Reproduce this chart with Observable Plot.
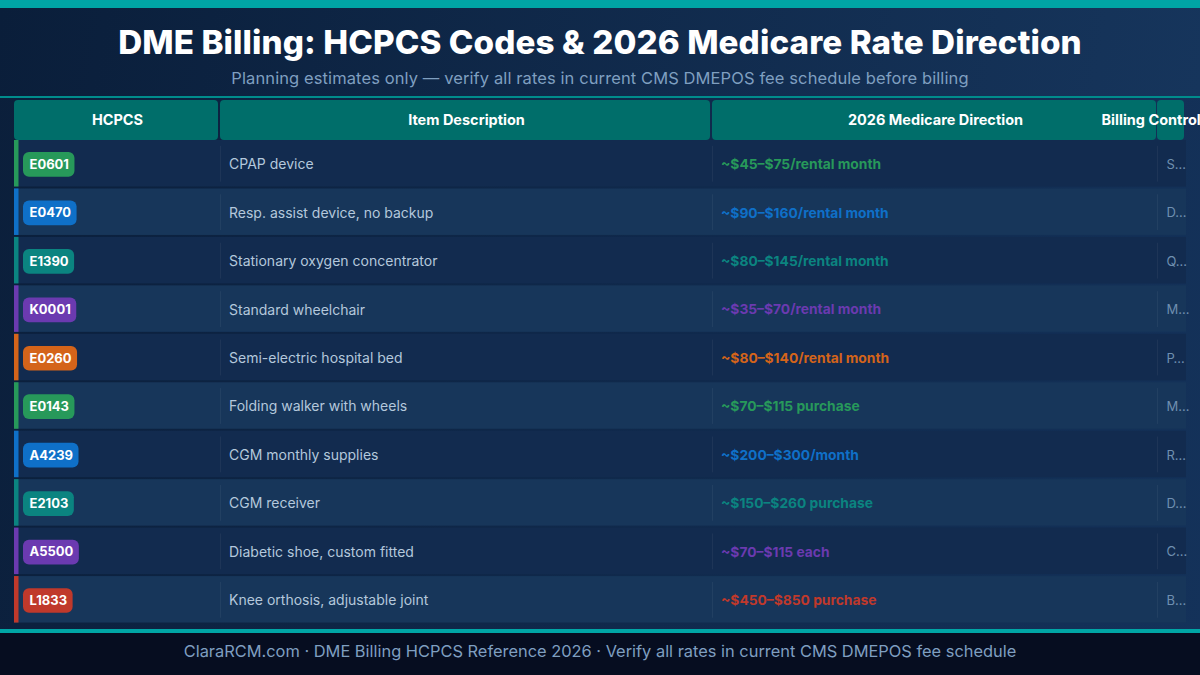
<!DOCTYPE html>
<html><head><meta charset="utf-8">
<script src="https://cdn.jsdelivr.net/npm/d3@7"></script>
<script src="https://cdn.jsdelivr.net/npm/@observablehq/plot@0.6"></script>
<style>
html,body{margin:0;padding:0;width:1200px;height:675px;overflow:hidden;font-family:Inter,sans-serif}
body{background:linear-gradient(100deg,#0b1f3b 0%,#14325a 100%)}
#bar{height:8px;background:#00a5a5}
#head{height:90px;box-sizing:border-box;border-bottom:2px solid #008c8c;text-align:center;background:linear-gradient(100deg,#0a1e3a 0%,#16355c 100%)}
#title{color:#fff;font-weight:800;font-size:33.2px;line-height:40px;padding-top:14px;letter-spacing:.1px}
#sub{color:#7f9fc0;font-size:16.5px;line-height:20px;margin-top:6px;letter-spacing:.1px}
#chart{height:531px;overflow:hidden}
#chart svg{display:block;overflow:hidden}
#foot{height:42px;border-top:4px solid #00a5a5;background:#060d20;color:#7f9fc0;text-align:center;font-size:16.4px;line-height:37px}
</style></head><body>
<div id="bar"></div>
<div id="head"><div id="title">DME Billing: HCPCS Codes &amp; 2026 Medicare Rate Direction</div>
<div id="sub">Planning estimates only — verify all rates in current CMS DMEPOS fee schedule before billing</div></div>
<div id="chart"></div>
<div id="foot">ClaraRCM.com · DME Billing HCPCS Reference 2026 · Verify all rates in current CMS DMEPOS fee schedule</div>
<script>
const codes=["E0601","E0470","E1390","K0001","E0260","E0143","A4239","E2103","A5500","L1833"];
const items=["CPAP device","Resp. assist device, no backup","Stationary oxygen concentrator","Standard wheelchair","Semi-electric hospital bed","Folding walker with wheels","CGM monthly supplies","CGM receiver","Diabetic shoe, custom fitted","Knee orthosis, adjustable joint"];
const rates=["~$45–$75/rental month","~$90–$160/rental month","~$80–$145/rental month","~$35–$70/rental month","~$80–$140/rental month","~$70–$115 purchase","~$200–$300/month","~$150–$260 purchase","~$70–$115 each","~$450–$850 purchase"];
const controls=["S…","D…","Q…","M…","P…","M…","R…","D…","C…","B…"];
const groups=["cat1","cat2","cat3","cat4","cat5","cat1","cat2","cat3","cat4","cat6"];
const headers=["HCPCS","Item Description","2026 Medicare Direction","Billing Control"];

const groupDomain=["cat1","cat2","cat3","cat4","cat5","cat6"];
const groupColors=["#27995a","#0f70c8","#0b8480","#6b3ab0","#d4641a","#c0392b"];
const cellStarts=[14,220,712,1157];
const cellEnds=[218,710,1156,1184];
const rowH=48.45, headH=42, plotH=531;
const canvas=document.createElement("canvas").getContext("2d");
canvas.font="700 13px Inter";
const rows=codes.map((c,i)=>({i,code:c,item:items[i],rate:rates[i],ctl:controls[i],g:groups[i],
  w:canvas.measureText(c).width+12}));
const cols=headers.map((h,i)=>({h,i,x1:cellStarts[i],x2:cellEnds[i]}));
const hx=[117,466,935,1101];
const seps=cellStarts.slice(1);

const plot=Plot.plot({
  width:1200,height:plotH,margin:0,
  style:{background:"transparent",fontFamily:"Inter,sans-serif"},
  x:{domain:[0,1200],range:[0,1200],axis:null},
  y:{domain:[-headH/rowH,(plotH-headH)/rowH],range:[0,plotH],axis:null},
  color:{type:"ordinal",domain:groupDomain,range:groupColors},
  marks:[
    Plot.rect(cols,{x1:"x1",x2:"x2",y1:-40/rowH,y2:0,fill:"#006e6a",rx:4}),
    Plot.rect(rows,{x1:14,x2:1186,y1:d=>d.i,y2:d=>d.i+0.96,fill:d=>d.i%2?"#17365a":"#122b4f"}),
    Plot.rect(rows,{x1:14,x2:18.5,y1:d=>d.i,y2:d=>d.i+0.96,fill:"g"}),
    seps.map(x=>Plot.ruleX(rows,{x:()=>x,y1:d=>d.i+0.12,y2:d=>d.i+0.86,stroke:"#ffffff",strokeOpacity:0.05})),
    Plot.rect(rows,{x1:23,x2:d=>23+d.w,y1:d=>d.i+0.25,y2:d=>d.i+0.76,fill:"g",rx:6}),
    Plot.text(rows,{x:d=>23+d.w/2,y:d=>d.i+0.5,text:"code",fill:"#fff",fontWeight:700,fontSize:13}),
    Plot.text(rows,{x:228.5,y:d=>d.i+0.5,text:"item",fill:"#b4c8dc",fontSize:14,textAnchor:"start"}),
    Plot.text(rows,{x:720.5,y:d=>d.i+0.5,text:"rate",fill:"g",fontWeight:700,fontSize:13.8,textAnchor:"start"}),
    Plot.text(rows,{x:1166,y:d=>d.i+0.5,text:"ctl",fill:"#6f8fb0",fontSize:13,textAnchor:"start"}),
    Plot.text(cols.slice(0,3),{x:d=>hx[d.i],y:-20/rowH,text:"h",fill:"#fff",fontWeight:700,fontSize:14.5}),
    Plot.text(cols.slice(3),{x:hx[3],y:-20/rowH,text:"h",fill:"#fff",fontWeight:700,fontSize:14.5,textAnchor:"start"})
  ]
});
document.getElementById("chart").append(plot);
</script>
</body></html>
